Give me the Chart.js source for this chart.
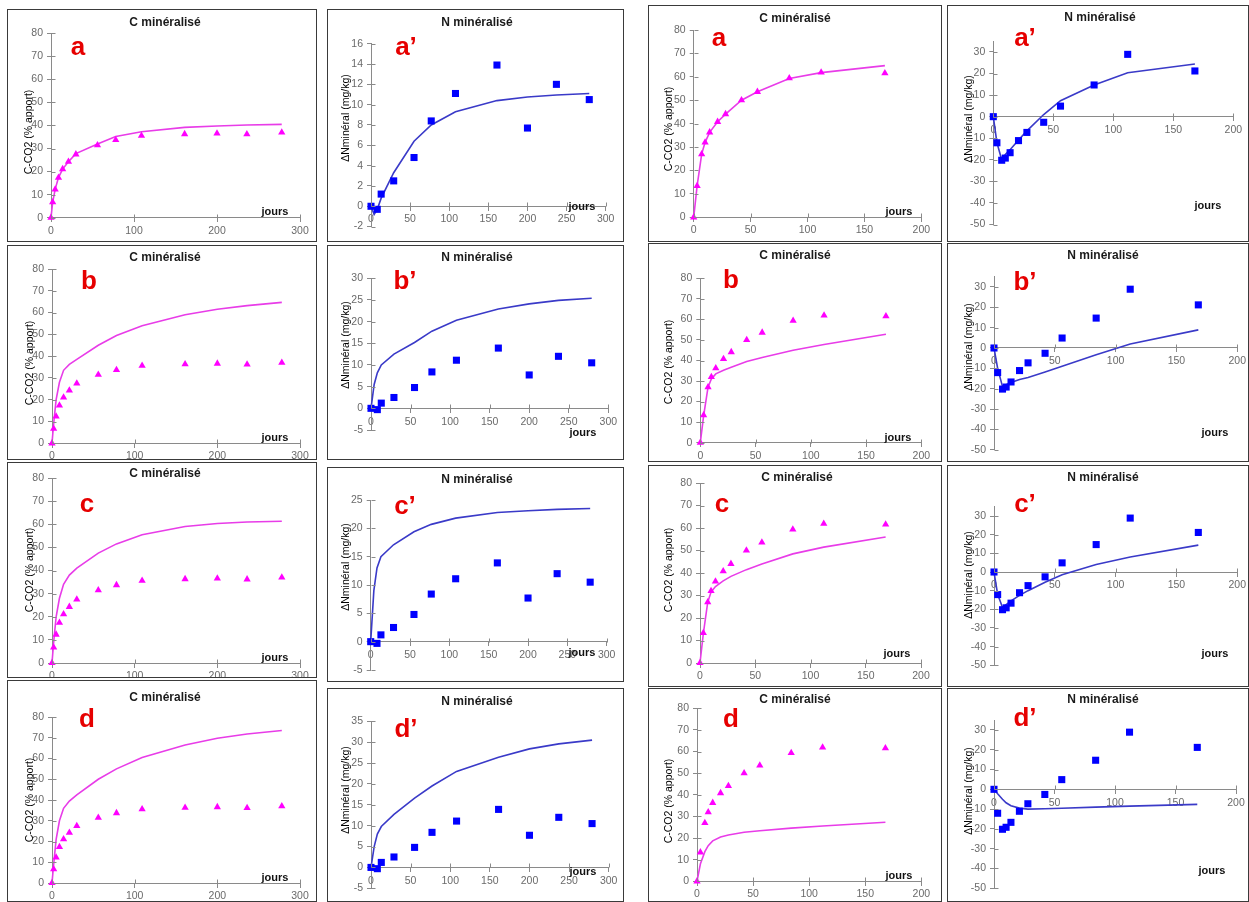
<!DOCTYPE html>
<html><head><meta charset="utf-8">
<script src="https://cdn.jsdelivr.net/npm/chart.js@4.4.1/dist/chart.umd.min.js"></script>
<style>
html,body{margin:0;padding:0;background:#fff;}
body{width:1249px;height:902px;position:relative;overflow:hidden;font-family:"Liberation Sans",Arial,sans-serif;}
.box{position:absolute;border:1px solid #3a3a3a;box-sizing:border-box;pointer-events:none;}
canvas.ch{position:absolute;}
.t{position:absolute;white-space:nowrap;transform:translate(-50%,-50%);line-height:1;}
.title{font-weight:bold;font-size:12px;color:#1a1a1a;}
.lbl{font-weight:bold;font-size:26px;color:#e60000;}
.ytitle{font-size:10.5px;color:#000;transform:translate(-50%,-50%) rotate(-90deg);}
.jours{font-weight:bold;font-size:11px;color:#111;}
</style></head><body>
<script>
// ---------- DATA ----------
// Left experiment (280 days)
const joursC1 = [0, 2, 5, 9, 14, 21, 30, 56, 78, 109, 161, 200, 236, 278];
const obsC1   = [0, 6.7, 12.3, 17.4, 21.1, 24.3, 27.5, 31.5, 33.7, 35.6, 36.3, 36.6, 36.2, 37.0];
const modC1a  = [0, 6.7, 12.3, 17.4, 21.1, 24.3, 27.8, 32.0, 35.2, 37.3, 39.2, 39.8, 40.2, 40.5];
const modC1b  = [0, 9, 20, 28, 33.5, 36.2, 38.5, 45, 49.5, 54, 59, 61.5, 63.2, 64.7];
const modC1c  = [0, 9, 20, 28, 34, 38, 41, 47.5, 51.5, 55.5, 59, 60.3, 61, 61.3];
const modC1d  = [0, 9, 21, 30, 36, 39.5, 42.5, 50, 55, 60.5, 66.5, 69.8, 71.8, 73.5];

const joursN1    = [0, 8, 13, 29, 55, 77, 108, 161, 200, 237, 279];
const obsN1      = [0, -0.3, 1.2, 2.5, 4.8, 8.4, 11.1, 13.9, 7.7, 12.0, 10.5];
const joursN1mod = [0, 4, 8, 13, 29, 55, 77, 108, 161, 200, 237, 279];
const modN1a = [0, -0.8, -0.3, 0.8, 3.3, 6.4, 8.0, 9.3, 10.4, 10.75, 10.95, 11.1];
const modN1b = [0, 5.5, 8.2, 10, 12.5, 15.2, 17.8, 20.3, 22.9, 24.1, 24.9, 25.4];
const modN1c = [0, 9, 13, 15, 17.1, 19.4, 20.7, 21.8, 22.8, 23.1, 23.35, 23.5];
const modN1d = [0, 5, 8, 9.8, 12.7, 16.6, 19.5, 23, 26.4, 28.4, 29.6, 30.5];

// Right experiment (168 days)
const joursC2 = [0, 3, 7, 10, 14, 21, 28, 42, 56, 84, 112, 168];
const obsC2   = [0, 13.4, 27, 32, 36.3, 40.8, 44.1, 50, 53.6, 59.4, 61.9, 61.6];
const modC2a  = [0, 13.4, 27, 32, 36.3, 40.8, 44.1, 50, 53.6, 59.3, 61.8, 64.8];
const modC2b  = [0, 13, 27, 31, 33.5, 35.3, 36.7, 39.5, 41.5, 45, 47.8, 52.8];
const modC2c  = [0, 13, 27, 31.5, 34, 36.5, 38.5, 41.5, 44, 48.5, 51.5, 56];
const modC2d  = [0, 8, 13.7, 16.5, 18.7, 20.5, 21.4, 22.7, 23.4, 24.6, 25.6, 27.3];

const joursN2 = [0, 3, 7, 10, 14, 21, 28, 42, 56, 84, 112, 168];
const obsN2   = [0, -12.1, -20.2, -19.2, -16.7, -11.1, -7.3, -2.6, 4.9, 14.7, 28.9, 21.2];
const modN2a  = [0, -12, -20, -17.5, -15.3, -10.8, -6.6, 1, 7.4, 14.7, 20.4, 24.4];
const modN2b  = [0, -10, -19, -18, -17, -15.5, -14.5, -11.8, -9, -3.3, 2, 8.9];
const modN2c  = [0, -12, -19, -17.5, -15.5, -12.5, -10, -5.5, -1.5, 4, 8, 14.4];
const modN2d  = [0, -2.2, -5, -6.8, -8.3, -9.5, -10, -9.8, -9.6, -9, -8.5, -7.6];

// Texts
const titleC = "C minéralisé";
const titleN = "N minéralisé";
const yTitleC = "C-CO2 (% apport)";
const yTitleN = "ΔNminéral (mg/kg)";
const xLabel = "jours";

// ---------- LAYOUT ----------
// box:[x,y,w,h]  area:[left,top,right,bottom]  text centres: tt title, lt letter, yt y-title, jt "jours"
const panels = [
 {k:'C',L:'a', box:[7,9,310,233],   area:[51,33.3,300,217.7],   xs:joursC1,ys:obsC1,mx:joursC1,my:modC1a,xMax:300,xStep:100,yMin:0,yMax:80,yStep:10,
  tt:[165,22],lt:[78,46],yt:[28,132],jt:[275,211]},
 {k:'N',L:'a’',box:[327,9,297,233], area:[371,43.7,605.7,226.6], xs:joursN1,ys:obsN1,mx:joursN1mod,my:modN1a,xMax:300,xStep:50,yMin:-2,yMax:16,yStep:2,
  tt:[477,22],lt:[406,46],yt:[345,118],jt:[582,206]},
 {k:'C',L:'a', box:[648,5,294,237], area:[693.7,30,921.3,217.3], xs:joursC2,ys:obsC2,mx:joursC2,my:modC2a,xMax:200,xStep:50,yMin:0,yMax:80,yStep:10,
  tt:[795,18],lt:[719,37],yt:[668,129],jt:[899,211]},
 {k:'N',L:'a’',box:[947,5,302,237], area:[993.3,41.2,1233.3,224.5], xs:joursN2,ys:obsN2,mx:joursN2,my:modN2a,xMax:200,xStep:50,yMin:-50,yMax:35,yStep:10,
  tt:[1100,17],lt:[1025,37],yt:[968,119],jt:[1208,205]},

 {k:'C',L:'b', box:[7,245,310,215], area:[52,269,300,443.3], xs:joursC1,ys:obsC1,mx:joursC1,my:modC1b,xMax:300,xStep:100,yMin:0,yMax:80,yStep:10,
  tt:[165,257],lt:[89,280],yt:[29,363],jt:[275,437]},
 {k:'N',L:'b’',box:[327,245,297,215], area:[371,278.3,608.3,430], xs:joursN1,ys:obsN1,mx:joursN1mod,my:modN1b,xMax:300,xStep:50,yMin:-5,yMax:30,yStep:5,
  tt:[477,257],lt:[405,280],yt:[345,345],jt:[583,432]},
 {k:'C',L:'b', box:[648,243,294,219], area:[700.3,278.3,921.3,442.7], xs:joursC2,ys:obsC2,mx:joursC2,my:modC2b,xMax:200,xStep:50,yMin:0,yMax:80,yStep:10,
  tt:[795,255],lt:[731,279],yt:[668,362],jt:[898,437]},
 {k:'N',L:'b’',box:[947,243,302,219], area:[994,276.8,1242.7,449.7], xs:joursN2,ys:obsN2,mx:joursN2,my:modN2b,xMax:200,xStep:50,yMin:-50,yMax:35,yStep:10,
  tt:[1103,255],lt:[1025,281],yt:[968,347],jt:[1215,432]},

 {k:'C',L:'c', box:[7,462,310,216], area:[52,478,300,663], xs:joursC1,ys:obsC1,mx:joursC1,my:modC1c,xMax:300,xStep:100,yMin:0,yMax:80,yStep:10,
  tt:[165,473],lt:[87,503],yt:[29,570],jt:[275,657]},
 {k:'N',L:'c’',box:[327,467,297,215], area:[370.7,500,606.7,670], xs:joursN1,ys:obsN1,mx:joursN1mod,my:modN1c,xMax:300,xStep:50,yMin:-5,yMax:25,yStep:5,
  tt:[477,479],lt:[405,505],yt:[345,567],jt:[582,652]},
 {k:'C',L:'c', box:[648,465,294,222], area:[700,483,921,663], xs:joursC2,ys:obsC2,mx:joursC2,my:modC2c,xMax:200,xStep:50,yMin:0,yMax:80,yStep:10,
  tt:[797,477],lt:[722,503],yt:[668,570],jt:[897,653]},
 {k:'N',L:'c’',box:[947,465,302,222], area:[994,506.7,1238,665.3], xs:joursN2,ys:obsN2,mx:joursN2,my:modN2c,xMax:200,xStep:50,yMin:-50,yMax:35,yStep:10,
  tt:[1103,477],lt:[1025,503],yt:[968,575],jt:[1215,653]},

 {k:'C',L:'d', box:[7,680,310,222], area:[52,717,300,883], xs:joursC1,ys:obsC1,mx:joursC1,my:modC1d,xMax:300,xStep:100,yMin:0,yMax:80,yStep:10,
  tt:[165,697],lt:[87,718],yt:[29,800],jt:[275,877]},
 {k:'N',L:'d’',box:[327,688,297,214], area:[371,721.3,608.7,888.3], xs:joursN1,ys:obsN1,mx:joursN1mod,my:modN1d,xMax:300,xStep:50,yMin:-5,yMax:35,yStep:5,
  tt:[477,701],lt:[406,728],yt:[345,790],jt:[583,871]},
 {k:'C',L:'d', box:[648,688,294,214], area:[697,708.3,921.3,881.3], xs:joursC2,ys:obsC2,mx:joursC2,my:modC2d,xMax:200,xStep:50,yMin:0,yMax:80,yStep:10,
  tt:[795,699],lt:[731,718],yt:[668,801],jt:[899,875]},
 {k:'N',L:'d’',box:[947,688,302,214], area:[994,720.1,1236,888.2], xs:joursN2,ys:obsN2,mx:joursN2,my:modN2d,xMax:200,xStep:50,yMin:-50,yMax:35,yStep:10,
  tt:[1103,699],lt:[1025,717],yt:[968,791],jt:[1212,870]}
];

// ---------- RENDER ----------
const AXIS = '#8a8a8a';
const TICKC = '#6a6a6a';
const crossTicks = {
  id:'crossTicks',
  afterDraw(chart){
    const {ctx, scales:{x, y}} = chart;
    const y0 = Math.round(y.getPixelForValue(0)) + 0.5;
    const x0 = Math.round(x.getPixelForValue(0)) + 0.5;
    ctx.save();
    ctx.strokeStyle = AXIS; ctx.lineWidth = 1;
    ctx.beginPath();
    x.ticks.forEach(t => { const px = Math.round(x.getPixelForValue(t.value)) + 0.5; ctx.moveTo(px, y0); ctx.lineTo(px, y0 - 4); });
    y.ticks.forEach(t => { const py = Math.round(y.getPixelForValue(t.value)) + 0.5; ctx.moveTo(x0, py); ctx.lineTo(x0 + 4, py); });
    ctx.stroke();
    ctx.restore();
  }
};

function pts(xs, ys){ return xs.map((v,i)=>({x:v, y:ys[i]})); }
function addText(cls, txt, pos){
  const d = document.createElement('div');
  d.className = 't ' + cls; d.textContent = txt;
  d.style.left = pos[0] + 'px'; d.style.top = pos[1] + 'px';
  document.body.appendChild(d);
}

panels.forEach(p => {
  const [bx, by, bw, bh] = p.box;
  const cv = document.createElement('canvas');
  cv.className = 'ch'; cv.width = bw; cv.height = bh;
  cv.style.left = bx + 'px'; cv.style.top = by + 'px';
  cv.style.width = bw + 'px'; cv.style.height = bh + 'px';
  document.body.appendChild(cv);
  const leftSpace = p.area[0] - bx;
  const yW = leftSpace - 2;          // width reserved for the y axis labels
  const pad = {left: leftSpace - yW, top: p.area[1]-by, right: bx+bw-p.area[2], bottom: by+bh-p.area[3]};
  const isC = p.k === 'C';
  const lineCol = isC ? '#e83ce8' : '#3a3ac8';
  const ptCol = isC ? '#ff00ff' : '#0000ff';
  new Chart(cv, {
    type: 'scatter',
    data: { datasets: [
      { data: pts(p.mx, p.my), showLine: true, pointRadius: 0, borderColor: lineCol, borderWidth: 1.6, tension: 0, clip: false, order: 2 },
      { data: pts(p.xs, p.ys), showLine: false, pointStyle: isC ? 'triangle' : 'rect',
        pointRadius: isC ? 4.2 : 5, backgroundColor: ptCol, borderColor: ptCol, borderWidth: 0, clip: false, order: 1 }
    ]},
    options: {
      responsive: false, animation: false, events: [],
      layout: { padding: pad },
      plugins: { legend: { display: false }, tooltip: { enabled: false }, title: { display: false } },
      scales: {
        x: { type: 'linear', min: 0, max: p.xMax, position: { y: 0 },
             grid: { drawOnChartArea: false, drawTicks: true, tickLength: 4, color: AXIS },
             border: { display: true, color: AXIS, width: 1 },
             ticks: { stepSize: p.xStep, autoSkip: false, maxRotation: 0, padding: 3, color: TICKC,
                      font: { family: 'Liberation Sans', size: 10.5 } } },
        y: { type: 'linear', min: p.yMin, max: p.yMax, position: 'left',
             afterFit: s => { s.width = yW; },
             afterBuildTicks: s => { s.ticks = s.ticks.filter(t => Math.abs(((t.value - p.yMin) / p.yStep) - Math.round((t.value - p.yMin) / p.yStep)) < 1e-6); },
             grid: { drawOnChartArea: false, drawTicks: true, tickLength: 4, color: AXIS },
             border: { display: true, color: AXIS, width: 1 },
             ticks: { stepSize: p.yStep, includeBounds: false, autoSkip: false, padding: 4, color: TICKC,
                      font: { family: 'Liberation Sans', size: 10.5 } } }
      }
    },
    plugins: [crossTicks]
  });
  const bd = document.createElement('div');
  bd.className = 'box';
  bd.style.left = bx + 'px'; bd.style.top = by + 'px';
  bd.style.width = bw + 'px'; bd.style.height = bh + 'px';
  document.body.appendChild(bd);
  addText('title', isC ? titleC : titleN, p.tt);
  addText('lbl', p.L, p.lt);
  addText('ytitle', isC ? yTitleC : yTitleN, p.yt);
  addText('jours', xLabel, p.jt);
});
</script>
</body></html>
